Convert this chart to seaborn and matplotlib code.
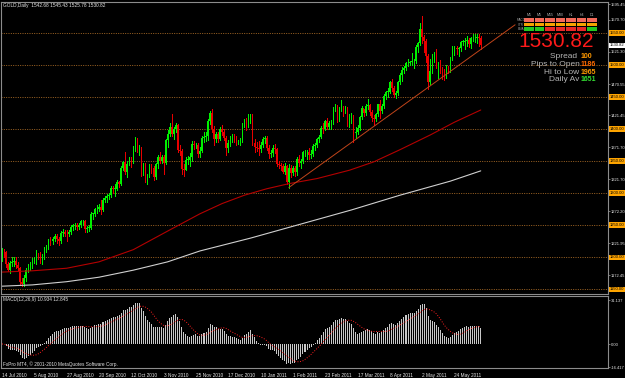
import numpy as np
import pandas as pd
import seaborn as sns
import matplotlib
matplotlib.use("Agg")
import matplotlib.pyplot as plt
from matplotlib import transforms
from matplotlib.patches import Rectangle

# GOLD daily, 14 Jul 2010 -> 10 Jun 2011
first_open = 1198.0
close_px = [
    # Jul 2010
    1209, 1208, 1189, 1181, 1191, 1193, 1194, 1188, 1183, 1161, 1158, 1168, 1181,
    # Aug
    1185, 1187, 1197, 1197, 1204, 1202, 1198, 1198, 1212, 1215, 1226, 1225, 1229, 1233, 1228, 1226,
    1238, 1240, 1237, 1236, 1240, 1247,
    # Sep
    1250, 1250, 1247, 1251, 1256, 1256, 1244, 1246, 1246, 1268, 1268, 1275, 1275, 1279, 1274, 1290,
    1292, 1296, 1297, 1309, 1307, 1307,
    # Oct
    1317, 1315, 1340, 1349, 1334, 1346, 1354, 1350, 1372, 1381, 1369, 1370, 1333, 1345, 1325, 1326,
    1341, 1339, 1325, 1345, 1357,
    # Nov
    1351, 1357, 1348, 1383, 1393, 1404, 1392, 1400, 1406, 1367, 1366, 1338, 1337, 1352, 1352, 1357,
    1377, 1375, 1375, 1362, 1366, 1386,
    # Dec
    1388, 1390, 1413, 1425, 1400, 1384, 1392, 1384, 1401, 1396, 1386, 1371, 1379, 1386, 1388, 1387,
    1380, 1380, 1383, 1407, 1414, 1405, 1421,
    # Jan 2011
    1422, 1379, 1373, 1371, 1369, 1376, 1385, 1386, 1371, 1361, 1363, 1370, 1369, 1345, 1344, 1343,
    1333, 1343, 1318, 1340, 1332,
    # Feb
    1340, 1333, 1354, 1348, 1350, 1364, 1364, 1364, 1360, 1362, 1374, 1375, 1385, 1388, 1402, 1400,
    1413, 1403, 1409, 1411,
    # Mar
    1433, 1437, 1416, 1430, 1435, 1427, 1433, 1411, 1420, 1421, 1394, 1396, 1402, 1419, 1433, 1426,
    1436, 1438, 1427, 1417, 1416, 1424, 1439,
    # Apr
    1429, 1437, 1452, 1458, 1458, 1474, 1465, 1453, 1456, 1473, 1485, 1492, 1496, 1503, 1504, 1505,
    1506, 1506, 1529, 1535, 1556,
    # May
    1544, 1538, 1515, 1473, 1491, 1514, 1517, 1501, 1502, 1492, 1489, 1484, 1496, 1492, 1510, 1527,
    1527, 1525, 1526, 1536, 1536, 1537,
    # Jun
    1540, 1533, 1542, 1542, 1543, 1544, 1542.68, 1530.82,
]
high_px = [
    1214, 1213, 1210, 1192, 1195, 1200, 1200, 1200, 1192, 1185, 1168, 1173, 1184,
    1190, 1192, 1199, 1201, 1211, 1207, 1208, 1205, 1216, 1219, 1228, 1231, 1232, 1236, 1236, 1231,
    1241, 1244, 1243, 1243, 1243, 1250,
    1252, 1253, 1254, 1254, 1259, 1259, 1258, 1249, 1251, 1271, 1270, 1277, 1282, 1283, 1290, 1293,
    1296, 1299, 1300, 1311, 1311, 1315,
    1320, 1319, 1342, 1350, 1365, 1350, 1356, 1356, 1374, 1388, 1387, 1375, 1372, 1348, 1347, 1330,
    1345, 1345, 1342, 1348, 1360,
    1365, 1360, 1360, 1385, 1398, 1410, 1424, 1404, 1410, 1408, 1375, 1369, 1345, 1357, 1358, 1363,
    1381, 1381, 1379, 1378, 1372, 1390,
    1395, 1395, 1416, 1428, 1431, 1405, 1396, 1396, 1404, 1406, 1400, 1389, 1383, 1390, 1393, 1392,
    1390, 1383, 1386, 1410, 1416, 1417, 1424,
    1424, 1423, 1385, 1380, 1382, 1380, 1388, 1390, 1390, 1376, 1368, 1375, 1377, 1371, 1350, 1348,
    1346, 1347, 1344, 1345, 1344,
    1342, 1343, 1356, 1359, 1354, 1366, 1368, 1368, 1371, 1367, 1377, 1378, 1387, 1391, 1405, 1410,
    1415, 1418, 1413, 1414,
    1435, 1440, 1438, 1434, 1445, 1436, 1436, 1434, 1423, 1426, 1422, 1403, 1406, 1421, 1436, 1432,
    1440, 1447, 1440, 1430, 1422, 1426, 1440,
    1445, 1440, 1455, 1460, 1465, 1476, 1478, 1467, 1460, 1476, 1487, 1497, 1499, 1505, 1510, 1507,
    1519, 1510, 1531, 1536, 1566,
    1577, 1547, 1541, 1518, 1510, 1517, 1520, 1525, 1505, 1508, 1497, 1494, 1500, 1499, 1513, 1530,
    1530, 1530, 1529, 1538, 1540, 1542,
    1545, 1542, 1544, 1548, 1548, 1549, 1548, 1545.43,
]
low_px = [
    1194, 1200, 1185, 1178, 1176, 1186, 1187, 1183, 1180, 1158, 1155, 1156, 1163,
    1177, 1180, 1184, 1191, 1190, 1197, 1191, 1190, 1197, 1208, 1213, 1220, 1221, 1226, 1222, 1220,
    1222, 1234, 1233, 1225, 1234, 1236,
    1242, 1244, 1243, 1245, 1247, 1250, 1240, 1240, 1241, 1244, 1260, 1264, 1270, 1272, 1268, 1273,
    1286, 1287, 1291, 1294, 1301, 1296,
    1305, 1310, 1313, 1336, 1330, 1325, 1344, 1341, 1348, 1366, 1365, 1360, 1327, 1329, 1317, 1315,
    1325, 1331, 1320, 1322, 1340,
    1348, 1348, 1330, 1346, 1373, 1390, 1390, 1385, 1395, 1365, 1360, 1330, 1327, 1336, 1345, 1343,
    1350, 1369, 1371, 1357, 1356, 1364,
    1380, 1382, 1383, 1408, 1396, 1376, 1380, 1380, 1383, 1391, 1383, 1360, 1365, 1374, 1380, 1380,
    1376, 1377, 1375, 1380, 1403, 1398, 1403,
    1410, 1376, 1364, 1366, 1360, 1365, 1372, 1378, 1368, 1355, 1356, 1358, 1363, 1342, 1340, 1336,
    1331, 1330, 1315, 1309, 1326,
    1328, 1327, 1329, 1343, 1340, 1348, 1358, 1354, 1353, 1355, 1358, 1368, 1372, 1380, 1386, 1394,
    1398, 1400, 1400, 1401,
    1408, 1429, 1412, 1413, 1428, 1420, 1425, 1405, 1403, 1410, 1380, 1386, 1392, 1399, 1416, 1420,
    1422, 1431, 1422, 1413, 1407, 1413, 1420,
    1418, 1425, 1433, 1447, 1451, 1456, 1460, 1450, 1448, 1453, 1470, 1476, 1488, 1493, 1498, 1500,
    1500, 1496, 1503, 1520, 1532,
    1535, 1520, 1505, 1462, 1470, 1488, 1505, 1496, 1480, 1488, 1478, 1477, 1480, 1488, 1489, 1508,
    1516, 1517, 1515, 1522, 1532, 1525,
    1530, 1528, 1527, 1537, 1536, 1535, 1530, 1525.78,
]
assert len(close_px) == len(high_px) == len(low_px)

date_labels = ["14 Jul 2010", "5 Aug 2010", "27 Aug 2010", "20 Sep 2010", "12 Oct 2010",
               "3 Nov 2010", "25 Nov 2010", "17 Dec 2010", "10 Jan 2011", "1 Feb 2011",
               "23 Feb 2011", "17 Mar 2011", "8 Apr 2011", "2 May 2011", "24 May 2011"]

# moving averages (read at a few bars)
red_ma_bar = [0, 15, 32, 48, 65, 82, 98, 109, 120, 131, 142, 156, 172, 184, 197, 212, 224, 237]
red_ma_px = [1177, 1179, 1183, 1193, 1212, 1241, 1268, 1284, 1297, 1307, 1315, 1323, 1336, 1349,
             1368, 1391, 1411, 1430]
white_ma_bar = [0, 15, 32, 48, 65, 82, 98, 123, 148, 173, 197, 222, 237]
white_ma_px = [1155, 1157, 1162, 1169, 1180, 1193, 1210, 1230, 1252, 1274, 1297, 1319, 1335]
trend_bar = [142, 254]
trend_px = [1309, 1563]

level_lines = [1550, 1500, 1450, 1400, 1350, 1300, 1250, 1200, 1150]
right_ticks = [1595.45, 1570.70, 1521.30, 1470.55, 1421.45, 1371.70, 1321.70, 1272.20, 1221.95, 1172.45]
last_price = 1530.82
macd_ticks = [31.137, 0.0, -16.417]
macd_tick_labels = ["31.137", "0.00", "-16.417"]

tf_names = ["M1", "M5", "M15", "M30", "H1", "H4", "D1"]
row_names = ["MACD", "STR", "EMA"]
row_states = [["s"] * 7, ["o"] * 7, ["g", "g", "r", "r", "r", "r", "g"]]
info_rows = [("Spread ", "100", "#FF9900"), ("Pips to Open", "1186", "#FF6A00"),
             ("Hi to Low", "1965", "#FF9900"), ("Daily Av", "1651", "#33DD33")]

# ---------------------------------------------------------------
sns.set_style("dark", {"axes.facecolor": "black", "figure.facecolor": "black"})
plt.rcParams["font.family"] = ["Liberation Sans", "DejaVu Sans"]

W, H = 625, 378
fig = plt.figure(figsize=(W / 100, H / 100), dpi=100, facecolor="black")


def px_axes(x0, y0, x1, y1):
    return fig.add_axes([x0 / W, 1 - y1 / H, (x1 - x0) / W, (y1 - y0) / H])


ax = px_axes(1, 1.5, 608, 294)
mx = px_axes(1, 296, 608, 368)

n = len(close_px)
x = np.arange(n)
close = np.array(close_px, dtype=float)
opn = np.concatenate([[first_open], close[:-1]])
hi = np.array(high_px, dtype=float)
lo = np.array(low_px, dtype=float)
cols = np.where(close >= opn, "#00F000", "#E80000")

# candles
ax.vlines(x, lo, hi, colors=cols, linewidth=0.7, antialiased=False)
ax.bar(x, np.maximum(np.abs(close - opn), 1.0), bottom=np.minimum(opn, close),
       width=0.75, color=cols, linewidth=0, antialiased=False)

for lv in level_lines:
    ax.axhline(lv, color="#B8742A", lw=0.6, ls=(0, (1.2, 1.6)), zorder=0.5)

sns.lineplot(x=red_ma_bar, y=red_ma_px, ax=ax, color="#B40000", linewidth=0.8)
sns.lineplot(x=white_ma_bar, y=white_ma_px, ax=ax, color="#D0D0D0", linewidth=0.8)
sns.lineplot(x=trend_bar, y=trend_px, ax=ax, color="#C0441A", linewidth=0.7)

# price scale from two read ticks
ppu = (275 - 4) / (1595.45 - 1172.45)
ax.set_ylim(1595.45 - (294 - 4) / ppu, 1595.45 + (4 - 1.5) / ppu)
xl = (-1 / 2.02, 606 / 2.02)
ax.set_xlim(*xl)
ax.set_xticks([])
ax.yaxis.tick_right()
ax.set_yticks(right_ticks)
ax.set_yticklabels([f"{v:.2f}" for v in right_ticks], fontsize=2.95, color="#E6E6E6")
ax.tick_params(axis="y", length=1.2, width=0.5, color="#A0A0A0", pad=0.6)
ax.set_xlabel("")
ax.set_ylabel("")

tr = transforms.blended_transform_factory(ax.transAxes, ax.transData)
for lv in level_lines:
    ax.text(1.003, lv, f"{lv:.2f}", transform=tr, fontsize=2.95, color="black", va="center",
            ha="left", clip_on=False,
            bbox=dict(boxstyle="square,pad=0.2", fc="#FFA500", ec="none"))
ax.text(1.003, last_price, f"{last_price:.2f}", transform=tr, fontsize=2.95, color="black",
        va="center", ha="left", clip_on=False,
        bbox=dict(boxstyle="square,pad=0.2", fc="white", ec="none"))

# MACD(12,26,9) from the closes
s = pd.Series(close)
macd = s.ewm(span=12, adjust=False).mean() - s.ewm(span=26, adjust=False).mean()
signal = macd.rolling(9, min_periods=1).mean()
mx.bar(x, macd.values, width=0.5, color="#C8C8C8", linewidth=0, antialiased=False)
sns.lineplot(x=x, y=signal.values, ax=mx, color="#FF2020", linewidth=0.7, linestyle=":")

ppm = (344 - 300) / 31.137
mx.set_ylim(-(368 - 344) / ppm, 31.137 + (300 - 296) / ppm)
mx.set_xlim(*xl)
mx.yaxis.tick_right()
mx.set_yticks(macd_ticks)
mx.set_yticklabels(macd_tick_labels, fontsize=2.95, color="#E6E6E6")
mx.tick_params(axis="y", length=1.2, width=0.5, color="#A0A0A0", pad=0.6)
mx.set_xticks(np.arange(len(date_labels)) * 16)
mx.set_xticklabels(date_labels, fontsize=3.4, color="#E6E6E6", ha="left")
mx.tick_params(axis="x", length=2, width=0.5, color="#A0A0A0", pad=1.5)
mx.set_xlabel("")
mx.set_ylabel("")

for a in (ax, mx):
    a.grid(False)
    for sp in a.spines.values():
        sp.set_visible(True)
        sp.set_color("#8C8C8C")
        sp.set_linewidth(0.8)

# overlay in pixel coordinates for the terminal texts and info panel
ov = fig.add_axes([0, 0, 1, 1])
ov.set_xlim(0, W)
ov.set_ylim(H, 0)
ov.axis("off")
ov.patch.set_alpha(0)

small = dict(fontsize=3.4, color="#E6E6E6", va="center", ha="left")
ov.text(3, 5, "GOLD,Daily  1542.68 1545.43 1525.78 1530.82", **small)
ov.text(3, 300, "MACD(12,26,9) 10.934 12.845", **small)
ov.text(3, 364, "FxPro MT4, \u00a9 2001-2010 MetaQuotes Software Corp.", **small)

state_col = {"s": "#F46A5A", "o": "#F5A300", "g": "#22C822", "r": "#E82828"}
for j, tf in enumerate(tf_names):
    cx = 529 + 10.5 * j
    ov.text(cx, 15, tf, fontsize=2.6, color="#B0B0B0", ha="center", va="center")
    for i, row in enumerate(row_states):
        ov.add_patch(Rectangle((cx - 4.6, 18.3 + 4.5 * i), 9.2, 3.4, fc=state_col[row[j]], ec="none"))
for i, rn in enumerate(row_names):
    ov.text(521, 20 + 4.5 * i, rn, fontsize=2.2, color="#A0A0A0", ha="center", va="center")

ov.text(594, 41.5, f"{last_price:.2f}", fontsize=15, color="#FF1A1A", ha="right", va="center")
for i, (lab, val, c) in enumerate(info_rows):
    y = 57 + 7.6 * i
    ov.text(579.5, y, lab, fontsize=6.0, color="#B4B4B4", ha="right", va="center")
    ov.text(580.5, y, val, fontsize=5.0, color=c, ha="left", va="center", fontweight="bold")

fig.savefig("out.png", dpi=100, facecolor="black")
